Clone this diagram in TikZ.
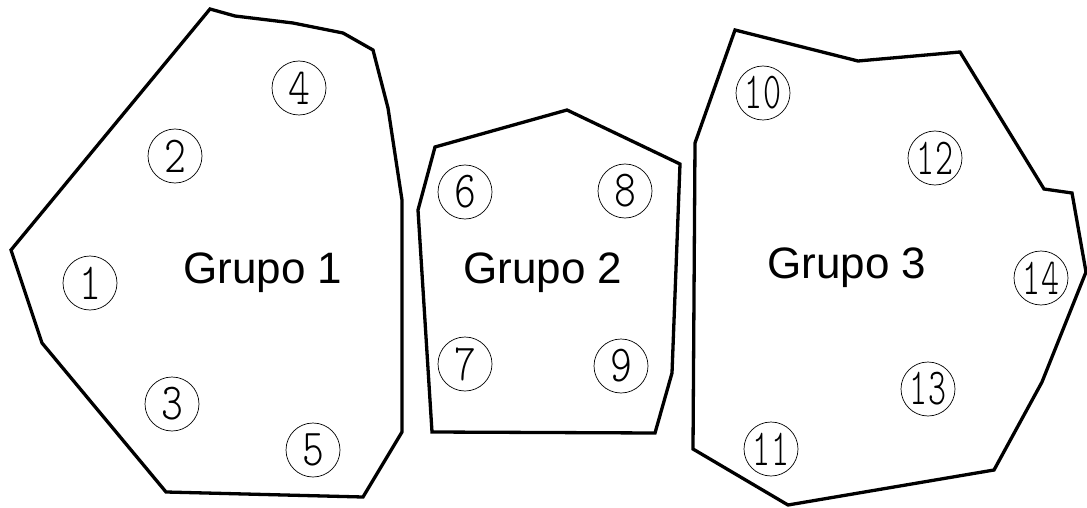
\documentclass[tikz,border=0pt]{standalone}
\usepackage{fontspec}
\setmainfont{Liberation Sans}
\newfontfamily\thindigits{lmmonolt10-regular.otf}
\newcommand{\one}[1]{\scalebox{0.8}[1]{#1}}
\newcommand{\two}[1]{\scalebox{0.66}[1]{#1}}
\begin{document}
\begin{tikzpicture}[x=1pt,y=-1pt,
  region/.style={draw=black,line width=3.3pt,line join=miter},
  ball/.style={circle,draw=black,line width=0.7pt,minimum size=54pt,inner sep=0pt,font=\thindigits\fontsize{52}{52}\selectfont},
  label/.style={font=\fontsize{44}{50}\selectfont,inner sep=0pt}]
\useasboundingbox (0,0) rectangle (1087,508);
% Group 1
\draw[region] (210,9) -- (235,16) -- (293,23) -- (343,33) -- (373,50) -- (388,108) -- (402,200) -- (402,432) -- (363,497) -- (166,492) -- (42,343) -- (11,250) -- cycle;
% Group 2
\draw[region] (435,147) -- (567,110) -- (680,164) -- (672,373) -- (655,433) -- (432,432) -- (418,210) -- cycle;
% Group 3
\draw[region] (735,30) -- (858,61) -- (960,52) -- (1044,189) -- (1072,193) -- (1086,272) -- (1042,382) -- (994,470) -- (788,505) -- (693,449) -- (695,143) -- cycle;
% circles
\node[ball] (c1) at (90,283) {\one{1}};
\node[ball] (c2) at (175,156) {\one{2}};
\node[ball] (c3) at (172,404) {\one{3}};
\node[ball] (c4) at (299,88) {\one{4}};
\node[ball] (c5) at (313,450) {\one{5}};
\node[ball] (c6) at (465,192) {\one{6}};
\node[ball] (c7) at (465,364) {\one{7}};
\node[ball] (c8) at (625,191) {\one{8}};
\node[ball] (c9) at (621,366) {\one{9}};
\node[ball] (c10) at (763,93) {\two{10}};
\node[ball] (c11) at (771,449) {\two{11}};
\node[ball] (c12) at (935,158) {\two{12}};
\node[ball] (c13) at (928,389) {\two{13}};
\node[ball] (c14) at (1041,278) {\two{14}};
% labels
\node[label] (g1) at (263,273) {Grupo 1};
\node[label] (g2) at (543,273) {Grupo 2};
\node[label] (g3) at (847,268) {Grupo 3};
\end{tikzpicture}
\end{document}
